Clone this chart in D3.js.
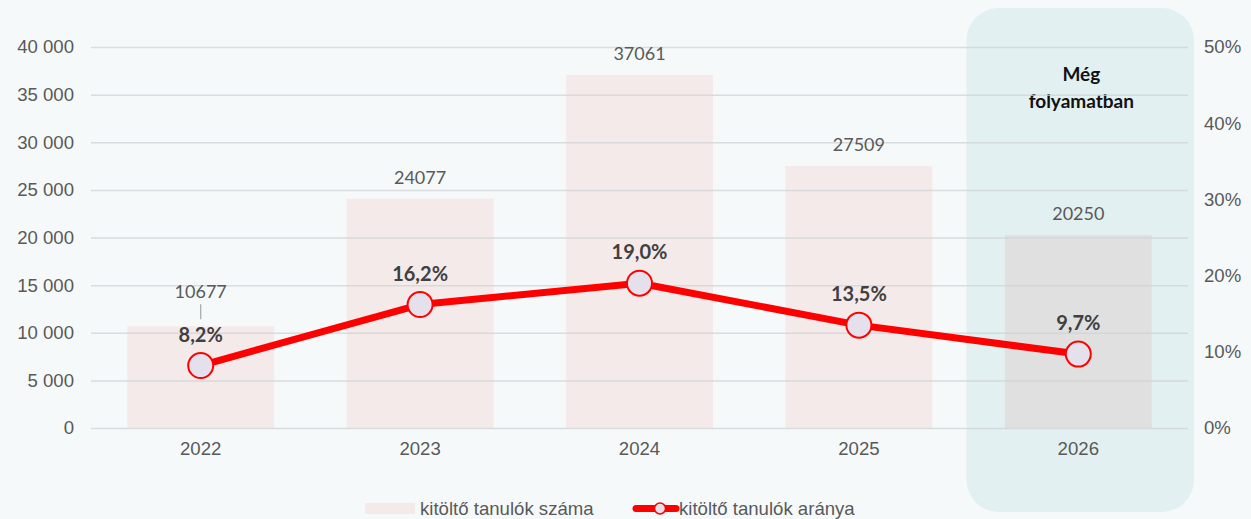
<!DOCTYPE html>
<html>
<head>
<meta charset="utf-8">
<script src="https://cdn.jsdelivr.net/npm/d3@7"></script>
<style>
  body { margin: 0; background: #f6f9fa; }
  svg { display: block; }
</style>
</head>
<body>
<svg id="chart" width="1251" height="519"></svg>
<script>
// data
var years = ['2022', '2023', '2024', '2025', '2026'];
var counts = [10677, 24077, 37061, 27509, 20250];
var shares = [8.2, 16.2, 19.0, 13.5, 9.7];
var leftTicks = [0, 5000, 10000, 15000, 20000, 25000, 30000, 35000, 40000];
var rightTicks = [0, 10, 20, 30, 40, 50];
var legendLabels = ['kitöltő tanulók száma', 'kitöltő tanulók aránya'];

var W = 1251, H = 519;
var margin = {left: 91, right: 63, top: 47, bottom: 91};
var svg = d3.select('#chart');

var x = d3.scaleBand().domain(years).range([margin.left, W - margin.right]).paddingInner(0).paddingOuter(0);
var yL = d3.scaleLinear().domain([0, 40000]).range([H - margin.bottom, margin.top]);
var yR = d3.scaleLinear().domain([0, 50]).range([H - margin.bottom, margin.top]);

var axisFont = '"Liberation Sans", Arial, sans-serif';
var labelFont = 'Lato, "Noto Sans", sans-serif';
var axisSize = 18.6;
var fmtSpace = function(d) { return d3.format(',')(d).replace(/,/g, ' '); };
var fmtPct = function(d) { return d.toFixed(1).replace('.', ',') + '%'; };

// "in progress" panel behind the last category
var last = years[years.length - 1];
svg.append('rect')
  .attr('x', x(last) - 2)
  .attr('y', 8)
  .attr('width', x.bandwidth() + 8)
  .attr('height', 504)
  .attr('rx', 32)
  .attr('fill', '#e3f0f1');

svg.append('text')
  .attr('text-anchor', 'middle')
  .attr('font-family', labelFont)
  .attr('font-weight', 700)
  .attr('font-size', 19)
  .attr('fill', '#111')
  .selectAll('tspan')
  .data(['Még', 'folyamatban'])
  .join('tspan')
  .attr('x', x(last) + x.bandwidth() / 2 + 3)
  .attr('y', function(d, i) { return 81 + i * 27; })
  .text(function(d) { return d; });

// bars
var barW = x.bandwidth() * 0.67;
svg.append('g').selectAll('rect')
  .data(counts)
  .join('rect')
  .attr('x', function(d, i) { return x(years[i]) + (x.bandwidth() - barW) / 2; })
  .attr('y', function(d) { return yL(d); })
  .attr('width', barW)
  .attr('height', function(d) { return yL(0) - yL(d); })
  .attr('fill', function(d, i) { return i === years.length - 1 ? '#e0e0e0' : '#f5eaea'; });

// gridlines (drawn over bars, as in the original)
svg.append('g').selectAll('line')
  .data(leftTicks)
  .join('line')
  .attr('x1', margin.left)
  .attr('x2', W - margin.right)
  .attr('y1', function(d) { return yL(d) + 0.5; })
  .attr('y2', function(d) { return yL(d) + 0.5; })
  .attr('stroke', '#cfd3d5')
  .attr('stroke-opacity', 0.75)
  .attr('stroke-width', 1.5);

// left axis
var gl = svg.append('g')
  .attr('transform', 'translate(' + (margin.left - 17) + ',0)')
  .call(d3.axisLeft(yL).tickValues(leftTicks).tickFormat(fmtSpace).tickSize(0).tickPadding(0));
gl.select('.domain').remove();
gl.selectAll('text').attr('font-family', axisFont).attr('font-size', axisSize).attr('fill', '#595959');

// right axis
var gr = svg.append('g')
  .attr('transform', 'translate(' + (W - margin.right + 16) + ',0)')
  .call(d3.axisRight(yR).tickValues(rightTicks).tickFormat(function(d) { return d + '%'; }).tickSize(0).tickPadding(0));
gr.select('.domain').remove();
gr.selectAll('text').attr('font-family', axisFont).attr('font-size', axisSize).attr('fill', '#595959');

// x axis
var gx = svg.append('g')
  .attr('transform', 'translate(0,' + (H - margin.bottom) + ')')
  .call(d3.axisBottom(x).tickSize(0).tickPadding(14));
gx.select('.domain').remove();
gx.selectAll('text').attr('font-family', axisFont).attr('font-size', axisSize).attr('fill', '#595959');

// bar value labels
var cx = function(i) { return x(years[i]) + x.bandwidth() / 2; };
var countLabelY = function(d, i) { return i === 0 ? yL(d) - 28 : yL(d) - 15; };
svg.append('g').selectAll('text')
  .data(counts)
  .join('text')
  .attr('x', function(d, i) { return cx(i); })
  .attr('y', countLabelY)
  .attr('text-anchor', 'middle')
  .attr('font-family', labelFont)
  .attr('font-size', 18)
  .attr('fill', '#595959')
  .text(function(d) { return d; });

// leader line for the displaced first label
svg.append('line')
  .attr('x1', cx(0)).attr('x2', cx(0))
  .attr('y1', yL(counts[0]) - 22).attr('y2', yL(counts[0]) - 7)
  .attr('stroke', '#a6a6a6').attr('stroke-width', 1.2);

// line series
var line = d3.line()
  .x(function(d, i) { return cx(i); })
  .y(function(d) { return yR(d); });
svg.append('path')
  .datum(shares)
  .attr('d', line)
  .attr('fill', 'none')
  .attr('stroke', '#ff0000')
  .attr('stroke-width', 7)
  .attr('stroke-linejoin', 'round');

svg.append('g').selectAll('circle')
  .data(shares)
  .join('circle')
  .attr('cx', function(d, i) { return cx(i); })
  .attr('cy', function(d) { return yR(d); })
  .attr('r', 12.5)
  .attr('fill', '#e4e1ec')
  .attr('stroke', '#ff0000')
  .attr('stroke-width', 2);

svg.append('g').selectAll('text')
  .data(shares)
  .join('text')
  .attr('x', function(d, i) { return cx(i); })
  .attr('y', function(d) { return yR(d) - 24; })
  .attr('text-anchor', 'middle')
  .attr('font-family', labelFont)
  .attr('font-weight', 700)
  .attr('font-size', 20)
  .attr('fill', '#404040')
  .text(function(d) { return fmtPct(d); });

// legend
var lg = svg.append('g').attr('font-family', axisFont).attr('font-size', axisSize).attr('fill', '#595959');
lg.append('rect').attr('x', 365).attr('y', 503).attr('width', 50).attr('height', 11).attr('fill', '#f5eaea');
lg.append('text').attr('x', 420).attr('y', 515).text(legendLabels[0]);
lg.append('line').attr('x1', 636).attr('x2', 676).attr('y1', 508.5).attr('y2', 508.5)
  .attr('stroke', '#ff0000').attr('stroke-width', 7).attr('stroke-linecap', 'round');
lg.append('circle').attr('cx', 660).attr('cy', 508.5).attr('r', 5.5)
  .attr('fill', '#e4e1ec').attr('stroke', '#ff0000').attr('stroke-width', 1.5);
lg.append('text').attr('x', 679).attr('y', 515).text(legendLabels[1]);
</script>
</body>
</html>
